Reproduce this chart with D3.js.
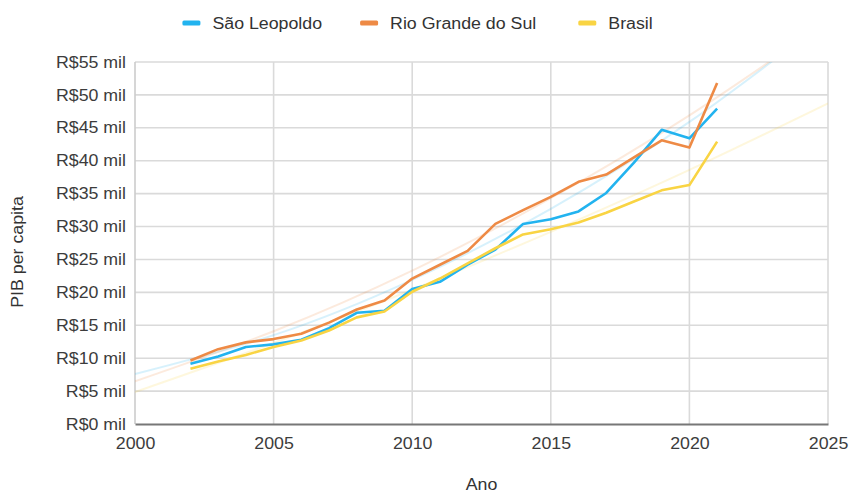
<!DOCTYPE html>
<html><head><meta charset="utf-8">
<script src="https://cdn.jsdelivr.net/npm/d3@7"></script>
<style>
html,body{margin:0;padding:0;background:#fff;}
svg{display:block;font-family:"Liberation Sans",Arial,sans-serif;}
</style></head>
<body><svg id="c" width="849" height="495"></svg>
<script>
const years = [2002,2003,2004,2005,2006,2007,2008,2009,2010,2011,2012,2013,2014,2015,2016,2017,2018,2019,2020,2021];
const saoLeopoldo = [9.15,10.25,11.7,12.1,12.8,14.55,16.9,17.2,20.5,21.6,24.2,26.5,30.4,31.1,32.3,35.1,39.7,44.7,43.4,47.9];
const rioGrandeDoSul = [9.65,11.37,12.4,12.9,13.7,15.4,17.4,18.75,22.1,24.2,26.3,30.4,32.5,34.5,36.8,37.9,40.5,43.1,42.0,51.8];
const brasil = [8.4,9.5,10.5,11.7,12.7,14.2,16.2,17.1,20.1,22.1,24.4,26.7,28.8,29.6,30.6,32.1,33.8,35.5,36.3,42.9];
// faint trendlines
const trendYears = [2000,2005,2010,2015,2020,2025];
const trendSao = [7.6,13.5,21.9,32.7,45.9,61.6];
const trendRio = [6.5,14.1,23.3,34.3,46.9,61.2];
const trendBrasil = [4.85,12.3,20.4,29.2,38.6,48.7];
const seriesNames = ["São Leopoldo","Rio Grande do Sul","Brasil"];
const seriesColors = ["#22b3ef","#ee8a45","#f9d443"];
const xTicks = [2000,2005,2010,2015,2020,2025];
const yTicks = [0,5,10,15,20,25,30,35,40,45,50,55];
const xTitle = "Ano", yTitle = "PIB per capita";

const STRETCH = 1.11;
const svg = d3.select("#c");
const m = {l:135, r:21, t:62, b:71};
const W = 849, H = 495;
const x = d3.scaleLinear().domain([2000,2025]).range([m.l, W-m.r]);
const y = d3.scaleLinear().domain([0,55]).range([H-m.b, m.t]);

function stretch(sel){
  sel.each(function(){
    const L = this.getComputedTextLength();
    d3.select(this).attr("textLength", L*STRETCH).attr("lengthAdjust","spacingAndGlyphs");
  });
}

// grid
const g = svg.append("g");
g.selectAll("line.h").data(yTicks.filter(d=>d>0)).join("line")
  .attr("x1",x(2000)).attr("x2",x(2025)).attr("y1",d=>y(d)).attr("y2",d=>y(d))
  .attr("stroke","#dadada").attr("stroke-width",1.6);
g.selectAll("line.v").data(xTicks).join("line")
  .attr("y1",y(0)).attr("y2",y(55)).attr("x1",d=>x(d)).attr("x2",d=>x(d))
  .attr("stroke",(d)=>d===2000?"#cccccc":"#dadada").attr("stroke-width",1.6);

// axes
const xa = svg.append("g").attr("transform",`translate(0,${y(0)})`)
  .call(d3.axisBottom(x).tickValues(xTicks).tickFormat(d3.format("d")).tickSize(0).tickPadding(14));
xa.select(".domain").attr("stroke","#777").attr("stroke-width",2);
xa.selectAll("text").attr("font-size",16).attr("fill","#3c3c3c").attr("font-family","Liberation Sans, Arial");
const ya = svg.append("g").attr("transform",`translate(${x(2000)},0)`)
  .call(d3.axisLeft(y).tickValues(yTicks).tickFormat(d=>`R$${d} mil`).tickSize(0).tickPadding(9));
ya.select(".domain").remove();
ya.selectAll("text").attr("font-size",16).attr("fill","#3c3c3c").attr("font-family","Liberation Sans, Arial");

// clip
svg.append("clipPath").attr("id","pc").append("rect")
  .attr("x",x(2000)).attr("y",y(55)).attr("width",x(2025)-x(2000)).attr("height",y(0)-y(55));

// trendlines
const trends = [trendSao, trendRio, trendBrasil];
const tl = d3.line().x((d,i)=>x(trendYears[i])).y(d=>y(d)).curve(d3.curveNatural);
svg.append("g").attr("clip-path","url(#pc)").selectAll("path").data(trends).join("path")
  .attr("d",tl).attr("fill","none").attr("stroke",(d,i)=>seriesColors[i])
  .attr("stroke-opacity",0.18).attr("stroke-width",2);

// series
const data = [saoLeopoldo, rioGrandeDoSul, brasil];
const ln = d3.line().x((d,i)=>x(years[i])).y(d=>y(d));
svg.append("g").selectAll("path").data(data).join("path")
  .attr("d",ln).attr("fill","none").attr("stroke",(d,i)=>seriesColors[i])
  .attr("stroke-width",2.6).attr("stroke-linejoin","round");

// legend
const lg = svg.append("g");
const items = [];
seriesNames.forEach((n,i)=>{
  const it = lg.append("g");
  it.append("rect").attr("x",0).attr("y",-2.5).attr("width",18).attr("height",5).attr("rx",1.5).attr("fill",seriesColors[i]);
  const t = it.append("text").attr("x",30).attr("y",6).attr("font-size",16).attr("fill","#333").text(n);
  stretch(t);
  const w = 30 + t.node().getComputedTextLength()*STRETCH;
  items.push({it, w});
});
let total = items.reduce((a,b)=>a+b.w,0) + 26*(items.length-1);
let start = 420 - total/2;
items.forEach(o=>{ o.it.attr("transform",`translate(${start},23)`); start += o.w + 26; });

// titles
const xt = svg.append("text").attr("x",x(2012.5)).attr("y",490).attr("text-anchor","middle")
  .attr("font-size",16).attr("fill","#333").text(xTitle);
const yt = svg.append("text").attr("transform","translate(23,252) rotate(-90)").attr("text-anchor","middle")
  .attr("font-size",16).attr("fill","#333").text(yTitle);

stretch(xa.selectAll("text"));
stretch(ya.selectAll("text"));
stretch(xt); stretch(yt);
</script></body></html>
